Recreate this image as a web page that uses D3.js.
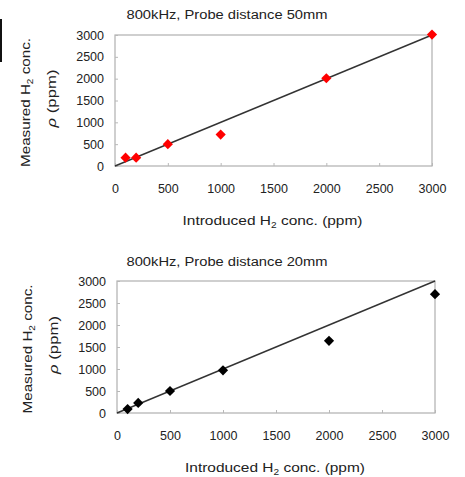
<!DOCTYPE html>
<html>
<head>
<meta charset="utf-8">
<script src="https://cdn.jsdelivr.net/npm/d3@7"></script>
<style>
  html, body { margin: 0; padding: 0; background: #fff; }
  svg { display: block; }
  text { font-family: "Liberation Sans", Arial, sans-serif; fill: #222; }
</style>
</head>
<body>
<svg id="chart" width="465" height="477"></svg>
<script>
// Introduced hydrogen concentrations (ppm)
const introduced = [100, 200, 500, 1000, 2000, 3000];
// Measured concentrations at 50 mm and 20 mm probe distance (ppm)
const measured50mm = [190, 190, 500, 720, 2010, 3010];
const measured20mm = [90, 230, 500, 970, 1640, 2700];
// Reference line y = x
const refX = [0, 3000];
const refY = [0, 3000];
// Axis ticks
const tickValues = [0, 500, 1000, 1500, 2000, 2500, 3000];
const titles = ["800kHz, Probe distance 50mm", "800kHz, Probe distance 20mm"];

const svg = d3.select("#chart");

// small dark bar at the left edge
svg.append("rect").attr("x", 0).attr("y", 19).attr("width", 2).attr("height", 43).attr("fill", "#111");

const panels = [
  { title: titles[0], values: measured50mm, color: "#ff0000", left: 115, right: 432, top: 35, bottom: 166, titleY: 19 },
  { title: titles[1], values: measured20mm, color: "#000000", left: 117, right: 435, top: 281, bottom: 413, titleY: 266 }
];

panels.forEach(p => {
  const x = d3.scaleLinear().domain([0, 3000]).range([p.left, p.right]);
  const y = d3.scaleLinear().domain([0, 3000]).range([p.bottom, p.top]);
  const g = svg.append("g");

  // title
  g.append("text")
    .attr("x", 227).attr("y", p.titleY)
    .attr("text-anchor", "middle")
    .attr("font-size", 12.5)
    .attr("textLength", 201).attr("lengthAdjust", "spacingAndGlyphs")
    .text(p.title);

  // plot frame
  g.append("rect")
    .attr("x", p.left).attr("y", p.top)
    .attr("width", p.right - p.left).attr("height", p.bottom - p.top)
    .attr("fill", "none").attr("stroke", "#b0b0b0").attr("stroke-width", 1.2);

  // x axis: inward ticks, labels below
  const xAxis = g.append("g").attr("transform", `translate(0,${p.bottom})`)
    .call(d3.axisBottom(x).tickValues(tickValues).tickSize(-3).tickPadding(18).tickFormat(d3.format("d")));
  xAxis.select(".domain").remove();
  xAxis.selectAll(".tick line").attr("stroke", "#b8b8b8");
  xAxis.selectAll(".tick text").attr("font-size", 12.5).attr("fill", "#222")
    .attr("font-family", "'Liberation Sans', Arial, sans-serif");

  // y axis: inward ticks, labels left
  const yAxis = g.append("g").attr("transform", `translate(${p.left},0)`)
    .call(d3.axisLeft(y).tickValues(tickValues).tickSize(-3).tickPadding(11).tickFormat(d3.format("d")));
  yAxis.select(".domain").remove();
  yAxis.selectAll(".tick line").attr("stroke", "#b8b8b8");
  yAxis.selectAll(".tick text").attr("font-size", 12.5).attr("fill", "#222")
    .attr("font-family", "'Liberation Sans', Arial, sans-serif");

  // x axis label with subscript
  const xl = g.append("text")
    .attr("x", (p.left + p.right) / 2 - 1).attr("y", p.bottom + 59)
    .attr("text-anchor", "middle").attr("font-size", 13)
    .attr("textLength", 180).attr("lengthAdjust", "spacingAndGlyphs");
  xl.append("tspan").text("Introduced H");
  xl.append("tspan").attr("font-size", 8.5).attr("dy", 3).text("2");
  xl.append("tspan").attr("dy", -3).text(" conc. (ppm)");

  // y axis label, two lines
  const cy = (p.top + p.bottom) / 2;
  const yl = g.append("text")
    .attr("transform", `translate(${p.left - 85},${cy + 2}) rotate(-90)`)
    .attr("text-anchor", "middle").attr("font-size", 13)
    .attr("textLength", 129).attr("lengthAdjust", "spacingAndGlyphs");
  yl.append("tspan").text("Measured H");
  yl.append("tspan").attr("font-size", 8.5).attr("dy", 3).text("2");
  yl.append("tspan").attr("dy", -3).text(" conc.");

  const yl2 = g.append("text")
    .attr("transform", `translate(${p.left - 59},${cy - 2}) rotate(-90)`)
    .attr("text-anchor", "middle").attr("font-size", 13)
    .attr("textLength", 58).attr("lengthAdjust", "spacingAndGlyphs");
  yl2.append("tspan").attr("font-style", "italic").text("ρ");
  yl2.append("tspan").text(" (ppm)");

  // reference line
  const line = d3.line().x(d => x(d[0])).y(d => y(d[1]));
  g.append("path")
    .datum(d3.zip(refX, refY))
    .attr("d", line)
    .attr("fill", "none").attr("stroke", "#333").attr("stroke-width", 1.4);

  // data markers (square diamonds)
  const marker = d3.symbol().type(d3.symbolSquare).size(52);
  g.selectAll("path.pt")
    .data(d3.zip(introduced, p.values))
    .join("path")
    .attr("class", "pt")
    .attr("transform", d => `translate(${x(d[0])},${y(d[1])}) rotate(45)`)
    .attr("d", marker)
    .attr("fill", p.color);
});
</script>
</body>
</html>
